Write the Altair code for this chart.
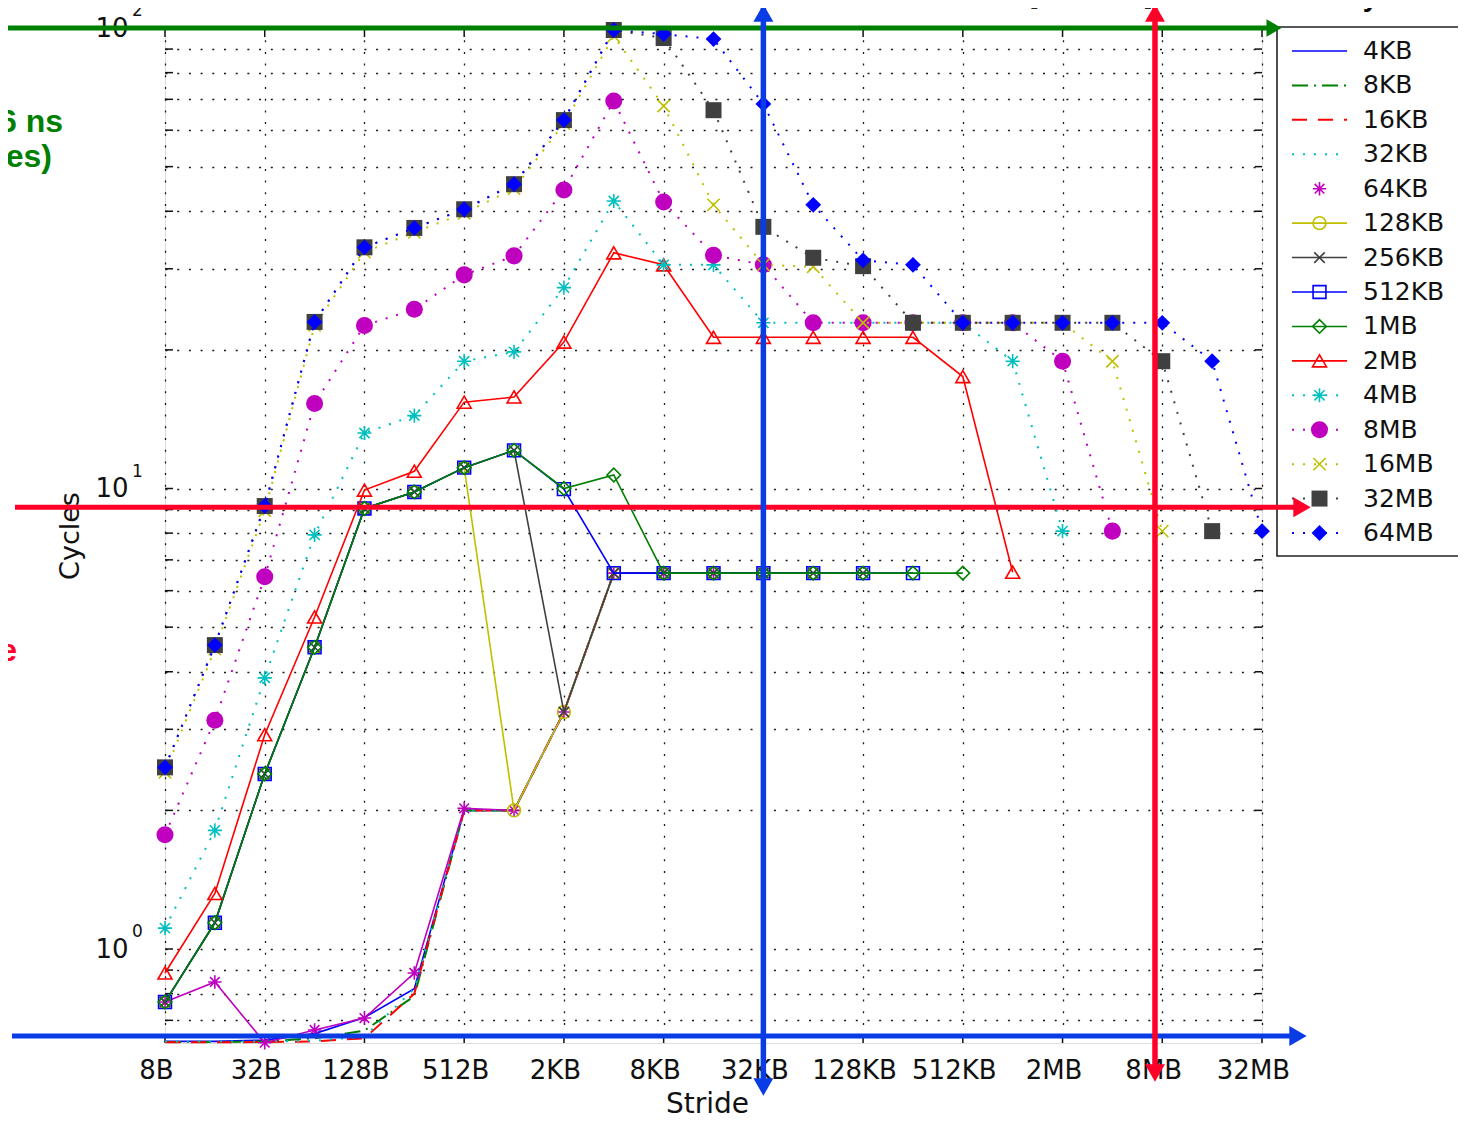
import json
import altair as alt
import pandas as pd

# ------------------------------------------------------------------ data
stride_bytes = [8, 16, 32, 64, 128, 256, 512, 1024, 2048, 4096, 8192, 16384,
                32768, 65536, 131072, 262144, 524288, 1048576, 2097152,
                4194304, 8388608, 16777216, 33554432]

x_tick_values = [8, 32, 128, 512, 2048, 8192, 32768, 131072, 524288,
                 2097152, 8388608, 33554432]
x_tick_labels = ["8B", "32B", "128B", "512B", "2KB", "8KB", "32KB", "128KB",
                 "512KB", "2MB", "8MB", "32MB"]

y_grid_values = [0.7, 0.8, 0.9, 1, 2, 3, 4, 5, 6, 7, 8, 9, 10, 20, 30, 40,
                 50, 60, 70, 80, 90, 100]
y_label_values = [1, 10, 100]
y_label_base = ["10", "10", "10"]
y_label_exponents = ["0", "1", "2"]

series_names = ["4KB", "8KB", "16KB", "32KB", "64KB", "128KB", "256KB",
                "512KB", "1MB", "2MB", "4MB", "8MB", "16MB", "32MB", "64MB"]

cycles_4KB = [0.63, 0.63, 0.634, 0.655, 0.71, 0.82, 2.0, 2.0, 3.27]
cycles_8KB = [0.628, 0.628, 0.63, 0.64, 0.665, 0.79, 2.0, 2.0, 3.27, 6.55]
cycles_16KB = [0.627, 0.627, 0.628, 0.63, 0.64, 0.80, 2.0, 2.0, 3.27, 6.55, 6.55]
cycles_32KB = [0.63, 0.63, 0.63, 0.632, 0.645, 0.82, 2.0, 2.0, 3.27, 6.55, 6.55, 6.55]
cycles_64KB = [0.767, 0.848, 0.626, 0.667, 0.708, 0.887, 2.02, 2.0, 3.27,
               6.55, 6.55, 6.55, 6.55]
cycles_128KB = [0.767, 1.14, 2.40, 4.52, 9.05, 9.83, 11.1, 2.0, 3.27, 6.55,
                6.55, 6.55, 6.55, 6.55]
cycles_256KB = [0.767, 1.14, 2.40, 4.52, 9.05, 9.83, 11.1, 12.1, 3.27, 6.55,
                6.55, 6.55, 6.55, 6.55, 6.55]
cycles_512KB = [0.767, 1.14, 2.40, 4.52, 9.05, 9.83, 11.1, 12.1, 9.97, 6.55,
                6.55, 6.55, 6.55, 6.55, 6.55, 6.55]
cycles_1MB = [0.767, 1.14, 2.40, 4.52, 9.05, 9.83, 11.1, 12.1, 10.0, 10.7,
              6.55, 6.55, 6.55, 6.55, 6.55, 6.55, 6.55]
cycles_2MB = [0.887, 1.32, 2.92, 5.26, 9.92, 10.9, 15.4, 15.8, 20.8, 32.5,
              30.6, 21.3, 21.3, 21.3, 21.3, 21.3, 17.5, 6.58]
cycles_4MB = [1.11, 1.81, 3.88, 7.93, 13.2, 14.4, 18.9, 19.8, 27.3, 42.1,
              30.6, 30.6, 22.9, 22.9, 22.9, 22.9, 22.9, 18.9, 8.08]
cycles_8MB = [1.77, 3.14, 6.43, 15.3, 22.6, 24.5, 29.1, 32.0, 44.5, 69.4,
              41.9, 32.1, 30.6, 22.9, 22.9, 22.9, 22.9, 22.9, 18.9, 8.08]
cycles_16MB = [2.42, 4.48, 8.95, 22.6, 32.6, 36.0, 39.6, 44.8, 62.0, 96.0,
               67.7, 41.3, 30.6, 30.3, 22.9, 22.9, 22.9, 22.9, 22.9, 18.9, 8.08]
cycles_32MB = [2.48, 4.57, 9.16, 23.0, 33.4, 36.8, 40.4, 45.8, 63.1, 99.0,
               95.1, 66.3, 37.0, 31.7, 30.4, 22.9, 22.9, 22.9, 22.9, 22.9,
               18.9, 8.08]
cycles_64MB = [2.48, 4.57, 9.16, 23.0, 33.4, 36.8, 40.4, 45.8, 63.1, 99.0,
               97.0, 94.6, 68.4, 41.3, 31.3, 30.6, 22.9, 22.9, 22.9, 22.9,
               22.9, 18.9, 8.08]

series_values = [cycles_4KB, cycles_8KB, cycles_16KB, cycles_32KB, cycles_64KB,
                 cycles_128KB, cycles_256KB, cycles_512KB, cycles_1MB,
                 cycles_2MB, cycles_4MB, cycles_8MB, cycles_16MB, cycles_32MB,
                 cycles_64MB]

# annotation overlay (slide arrows) positions in data units
green_level = [100]
red_level = [9.1]
blue_level = [0.647]
blue_stride = [32768]
red_stride = [7.58e6]

title_text = ["Saavedra-Barrera Benchmark: Time to execute 1 load [Power3]"]
legend_title = ["Array size"]
side_texts_green = ["6 ns", "es)"]
side_text_red = ["e"]
side_text_blue = ["s"]

# ------------------------------------------------------------------ styles
W, H = 1097, 1015
FONT = "DejaVu Sans"
BLUE, GREEN, RED = "#0000FF", "#008000", "#FF0000"
CYAN, MAGENTA, YELLOW, GRAY = "#00BFBF", "#BF00BF", "#BFBF00", "#404040"
A_GREEN, A_RED, A_BLUE = "#008000", "#FF0028", "#0A3CE6"
X_SHAPE = "M-1,-1L1,1M-1,1L1,-1"
STAR_SHAPE = "M-1,0L1,0M0,-1L0,1M-0.72,-0.72L0.72,0.72M-0.72,0.72L0.72,-0.72"
DASHDOT = [16, 6, 2, 6]
DASHED = [15, 11]
DOTTED = [2, 9]

styles = {
    "4KB": dict(color=BLUE),
    "8KB": dict(color=GREEN, dash=DASHDOT),
    "16KB": dict(color=RED, dash=DASHED),
    "32KB": dict(color=CYAN, dash=DOTTED),
    "64KB": dict(color=MAGENTA, shape=STAR_SHAPE, filled=False, size=180, legend_line=False),
    "128KB": dict(color=YELLOW, shape="circle", filled=False, size=165),
    "256KB": dict(color=GRAY, shape=X_SHAPE, filled=False, size=110),
    "512KB": dict(color=BLUE, shape="square", filled=False, size=165),
    "1MB": dict(color=GREEN, shape="diamond", filled=False, size=185),
    "2MB": dict(color=RED, shape="triangle-up", filled=False, size=195),
    "4MB": dict(color=CYAN, dash=DOTTED, shape=STAR_SHAPE, filled=False, size=200),
    "8MB": dict(color=MAGENTA, dash=DOTTED, shape="circle", filled=True, size=290),
    "16MB": dict(color=YELLOW, dash=DOTTED, shape=X_SHAPE, filled=False, size=150),
    "32MB": dict(color=GRAY, dash=DOTTED, shape="square", filled=True, size=256),
    "64MB": dict(color=BLUE, dash=DOTTED, shape="diamond", filled=True, size=250),
}

rows = []
for name, vals in zip(series_names, series_values):
    for s, v in zip(stride_bytes, vals):
        rows.append({"series": name, "stride": s, "cycles": v})
df = pd.DataFrame(rows)

# ------------------------------------------------------------------ scales / axes
def xscale():
    return alt.Scale(type="log", base=2, domain=[8, 33554432], nice=False)


def yscale():
    return alt.Scale(type="log", domain=[0.625, 100], nice=False)


x_label_expr = (f"indexof({x_tick_values}, datum.value) >= 0 ? "
                f"{json.dumps(x_tick_labels)}[indexof({x_tick_values}, datum.value)] : ''")
y_label_expr = (f"indexof({y_label_values}, datum.value) >= 0 ? "
                f"{json.dumps(y_label_base)}[indexof({y_label_values}, datum.value)] : ''")

grid_kw = dict(grid=True, gridColor="#000", gridDash=[2, 9.7], gridWidth=1.3,
               gridOpacity=0.9, ticks=False, domain=False, labelFont=FONT,
               labelColor="#111", labelOverlap=False, labelFlush=False,
               titleFont=FONT, titleFontWeight="normal", titleColor="#111")

xaxis = alt.Axis(values=x_tick_values, labelExpr=x_label_expr, labelFontSize=26,
                 labelPadding=14, labelOffset=-9, labelAngle=0, title="Stride",
                 titleFontSize=28, titlePadding=7, titleX=542, **grid_kw)
yaxis = alt.Axis(values=y_grid_values, labelExpr=y_label_expr, labelFontSize=26,
                 labelPadding=37, title="Cycles", titleFontSize=27,
                 titlePadding=10, **grid_kw)

X = alt.X("stride:Q", scale=xscale(), axis=xaxis)
Y = alt.Y("cycles:Q", scale=yscale(), axis=yaxis)

# ------------------------------------------------------------------ main plot
ygrid_df = pd.DataFrame({"cycles": y_grid_values})
xgrid_df = pd.DataFrame({"stride": x_tick_values})
exp_df = pd.DataFrame({"cycles": y_label_values, "exp": y_label_exponents})
tick_kw = dict(color="#111", strokeWidth=1.5)
main_layers = [
    alt.Chart(ygrid_df).mark_rule(**tick_kw).encode(y=Y, x=alt.value(0), x2=alt.value(8)),
    alt.Chart(ygrid_df).mark_rule(**tick_kw).encode(y=Y, x=alt.value(W - 7), x2=alt.value(W)),
    alt.Chart(xgrid_df).mark_rule(**tick_kw).encode(x=X, y=alt.value(0), y2=alt.value(9)),
    alt.Chart(xgrid_df).mark_rule(**tick_kw).encode(x=X, y=alt.value(H - 9), y2=alt.value(H)),
    # exponent part of the 10^n tick labels
    alt.Chart(exp_df).mark_text(align="left", baseline="middle", dy=-17, font=FONT,
                                fontSize=17, color="#111")
    .encode(y=Y, x=alt.value(-33), text="exp:N"),
]

base = alt.Chart(df)
for name in series_names:
    st = styles[name]
    sub = base.transform_filter(alt.datum.series == name)
    lkw = dict(color=st["color"], strokeWidth=2.0 if "dash" in st else 1.6)
    if "dash" in st:
        lkw["strokeDash"] = st["dash"]
    main_layers.append(sub.mark_line(**lkw).encode(x=X, y=Y))
    if "shape" in st:
        main_layers.append(
            sub.mark_point(shape=st["shape"], filled=st["filled"], size=st["size"],
                           color=st["color"], strokeWidth=1.6, opacity=1)
            .encode(x=X, y=Y))

main = alt.layer(*main_layers)

# ------------------------------------------------------------------ legend
leg_df = pd.DataFrame({"series": series_names})
LY = alt.Y("series:N", scale=alt.Scale(type="point", domain=series_names,
                                       range=[23, 505], padding=0), axis=None)


def LX(v):
    return alt.XDatum(v, type="quantitative",
                      scale=alt.Scale(domain=[0, 1], range=[1127, 1182]), axis=None)


legend_layers = [
    alt.Chart(pd.DataFrame({"k": [0]})).mark_rect(fill="white", stroke="#222", strokeWidth=1.6)
    .encode(x=alt.value(1112), x2=alt.value(1300), y=alt.value(-1), y2=alt.value(528))
]
for name in series_names:
    st = styles[name]
    sub = alt.Chart(leg_df).transform_filter(alt.datum.series == name)
    if st.get("legend_line", True):
        rkw = dict(color=st["color"], strokeWidth=2.0 if "dash" in st else 1.6)
        if "dash" in st:
            rkw["strokeDash"] = st["dash"]
        legend_layers.append(sub.mark_rule(**rkw).encode(x=LX(0), x2=alt.X2Datum(1), y=LY))
    if "shape" in st:
        legend_layers.append(
            sub.mark_point(shape=st["shape"], filled=st["filled"], size=st["size"],
                           color=st["color"], strokeWidth=1.6, opacity=1)
            .encode(x=LX(0.5), y=LY))
legend_layers.append(
    alt.Chart(leg_df).mark_text(align="left", baseline="middle", dx=16, font=FONT,
                                fontSize=25, color="#111")
    .encode(x=LX(1), y=LY, text="series:N"))
legend = alt.layer(*legend_layers)

# ------------------------------------------------------------------ slide annotations
AX = alt.X("stride:Q", scale=xscale(), axis=None)
AY = alt.Y("cycles:Q", scale=yscale(), axis=None)


def hline(level, color, x0, x1, head_x, head_size, width=5):
    d = pd.DataFrame({"cycles": level})
    return [
        alt.Chart(d).mark_rule(color=color, strokeWidth=width)
        .encode(y=AY, x=alt.value(x0), x2=alt.value(x1)),
        alt.Chart(d).mark_point(shape="triangle-right", filled=True, color=color,
                                size=head_size, opacity=1)
        .encode(y=AY, x=alt.value(head_x)),
    ]


def vline(stride, color, y0, y1, up_y, down_y, width=5.5):
    d = pd.DataFrame({"stride": stride})
    return [
        alt.Chart(d).mark_rule(color=color, strokeWidth=width)
        .encode(x=AX, y=alt.value(y0), y2=alt.value(y1)),
        alt.Chart(d).mark_point(shape="triangle-up", filled=True, color=color,
                                size=400, opacity=1)
        .encode(x=AX, y=alt.value(up_y)),
        alt.Chart(d).mark_point(shape="triangle-down", filled=True, color=color,
                                size=400, opacity=1)
        .encode(x=AX, y=alt.value(down_y)),
    ]


def label(texts, color, x, y, size=32, weight="bold", align="right", font="Liberation Sans"):
    d = pd.DataFrame({"t": texts})
    return alt.Chart(d).mark_text(align=align, baseline="alphabetic", font=font,
                                  fontSize=size, fontWeight=weight, color=color) \
        .encode(text="t:N", x=alt.value(x), y=alt.value(y))


ann_layers = []
ann_layers += hline(green_level, A_GREEN, -170, 1104, 1109, 300)
ann_layers += hline(red_level, A_RED, -150, 1130, 1137, 400)
ann_layers += hline(blue_level, A_BLUE, -153, 1126, 1133, 400)
ann_layers += vline(blue_stride, A_BLUE, -20, 1055, -15, 1059)
ann_layers += vline(red_stride, A_RED, -20, 1040, -15, 1045)
ann_layers.append(label([side_texts_green[0]], A_GREEN, -102, 104))
ann_layers.append(label([side_texts_green[1]], A_GREEN, -113, 139))
ann_layers.append(label(side_text_red, A_RED, -148, 633))
ann_layers.append(label(side_text_blue, A_BLUE, -158, 971))
ann_layers.append(label(title_text, "#222", 545, -22, size=28, weight="normal",
                        align="center", font=FONT))
ann_layers.append(label(legend_title, "#000", 1207, -22, size=28, weight="bold",
                        align="center", font="Liberation Sans"))
annotations = alt.layer(*ann_layers)

chart = (
    alt.layer(main, legend, annotations)
    .resolve_scale(x="independent", y="independent")
    .properties(width=W, height=H, background="white",
                autosize=alt.AutoSizeParams(type="none"),
                padding={"left": 157, "top": 20, "right": 196, "bottom": 73})
    .configure_view(stroke="#111", strokeWidth=1.6)
    .configure(font=FONT)
)

chart.save("out.html", embed_options={"renderer": "svg", "actions": False})
